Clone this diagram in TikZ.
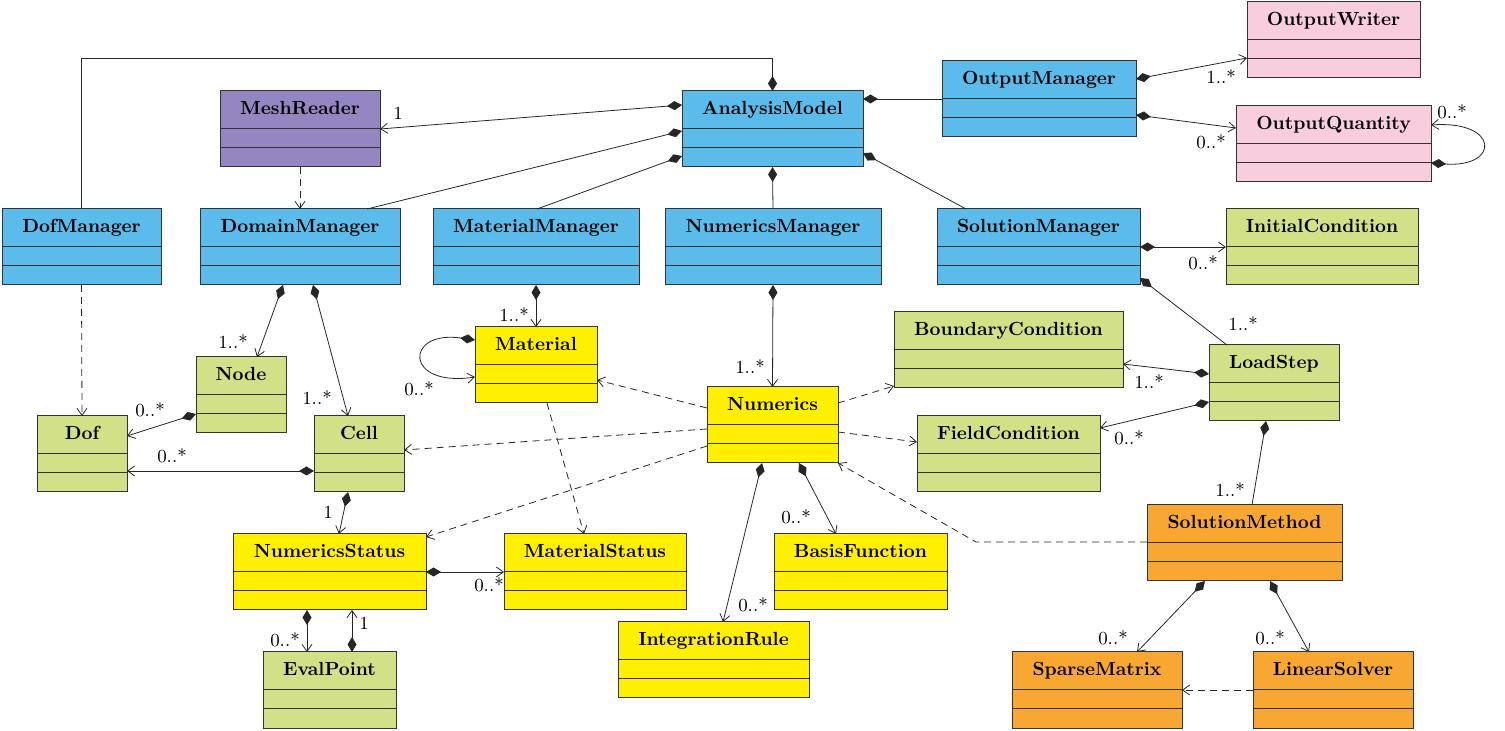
\documentclass[tikz,border=0pt]{standalone}
\usetikzlibrary{arrows.meta,fit,calc}
\definecolor{cblue}{RGB}{91,187,234}
\definecolor{cpurple}{RGB}{148,134,192}
\definecolor{cpink}{RGB}{248,205,222}
\definecolor{cgreen}{RGB}{210,225,136}
\definecolor{cyellow}{RGB}{255,240,0}
\definecolor{corange}{RGB}{248,168,50}
\tikzset{
  umlbox/.style={draw=black!80, line width=0.5pt, inner sep=0pt, outer sep=0pt, rectangle},
  ttl/.style={font=\fontsize{9.5}{11}\selectfont\bfseries, inner sep=0pt, anchor=base},
  mult/.style={font=\fontsize{9.2}{11}\selectfont, inner sep=0pt},
  conn/.style={draw=black!85, line width=0.4pt},
  comp/.style={conn, {Diamond[length=7.5pt,width=4.5pt]}-{Straight Barb[length=3.5pt,width=5pt]}},
  compl/.style={conn, {Diamond[length=7.5pt,width=4.5pt]}-},
  dep/.style={conn, dash pattern=on 3.5pt off 2.5pt, -{Straight Barb[length=3.5pt,width=5pt]}},
}
\newcommand\umlcls[6]{%
  \node[umlbox, fill=#5, fit={(#2,#4) ({#3},{#4+76})}] (#1) {};
  \draw[draw=black!80, line width=0.5pt]
     ([yshift=-18.75pt]#1.north west) -- ([yshift=-18.75pt]#1.north east)
     ([yshift=-28.5pt]#1.north west) -- ([yshift=-28.5pt]#1.north east);
  \node[ttl] (#1-t) at ([yshift=-11.8pt]#1.north) {#6};
}
\begin{document}
\begin{tikzpicture}[x=0.5pt,y=-0.5pt]
\useasboundingbox (0,0) rectangle (1505,731);
\umlcls{ow}{1247}{1420}{2}{cpink}{OutputWriter}
\umlcls{om}{942}{1136}{61}{cblue}{OutputManager}
\umlcls{am}{682}{863}{91}{cblue}{AnalysisModel}
\umlcls{mr}{220}{380}{91}{cpurple}{MeshReader}
\umlcls{oq}{1236}{1431}{106}{cpink}{OutputQuantity}
\umlcls{dofm}{2}{161}{209}{cblue}{DofManager}
\umlcls{dm}{200}{400}{209}{cblue}{DomainManager}
\umlcls{mm}{433}{639}{209}{cblue}{MaterialManager}
\umlcls{nm}{665}{881}{209}{cblue}{NumericsManager}
\umlcls{solm}{937}{1140}{209}{cblue}{SolutionManager}
\umlcls{ic}{1226}{1418}{209}{cgreen}{InitialCondition}
\umlcls{bc}{894}{1123}{312}{cgreen}{BoundaryCondition}
\umlcls{mat}{475}{597}{327}{cyellow}{Material}
\umlcls{ls}{1209}{1339}{345}{cgreen}{LoadStep}
\umlcls{nd}{196}{286}{357}{cgreen}{Node}
\umlcls{num}{707}{838}{387}{cyellow}{Numerics}
\umlcls{dof}{37}{127}{416}{cgreen}{Dof}
\umlcls{cell}{314}{404}{416}{cgreen}{Cell}
\umlcls{fc}{917}{1100}{416}{cgreen}{FieldCondition}
\umlcls{smeth}{1147}{1342}{505}{corange}{SolutionMethod}
\umlcls{ns}{233}{426}{534}{cyellow}{NumericsStatus}
\umlcls{ms}{504}{686}{534}{cyellow}{MaterialStatus}
\umlcls{bf}{774}{947}{534}{cyellow}{BasisFunction}
\umlcls{ir}{618}{809}{622}{cyellow}{IntegrationRule}
\umlcls{ep}{263}{396}{652}{cgreen}{EvalPoint}
\umlcls{spm}{1012}{1182}{652}{corange}{SparseMatrix}
\umlcls{lsol}{1253}{1413}{652}{corange}{LinearSolver}

% AnalysisModel connections
\draw[compl] (am.north) -- (am.north |- 0,58) -| (dofm.north);
\draw[comp] (am.west |- 0,105) -- (mr.east |- 0,129);
\draw[compl] (am.west |- 0,131) -- (dm.north -| 367,0);
\draw[compl] (am.west |- 0,156) -- (mm.north -| 537,0);
\draw[compl] (am.east |- 0,99) -- (om.west |- 0,99);
\draw[compl] (am.south) -- (nm.north);
\draw[compl] (am.east |- 0,153) -- (solm.north -| 966,0);
\draw[dep] (mr.south) -- (dm.north);
\draw[dep] (dofm.south) -- (dof.north);

% Domain
\draw[comp] (dm.south -| 283,0) -- (nd.north -| 257,0);
\draw[comp] (dm.south -| 313,0) -- (cell.north -| 348,0);
\draw[comp] (nd.west |- 0,414) -- (dof.east |- 0,436);
\draw[comp] (cell.west |- 0,471) -- (dof.east |- 0,471);
\draw[comp] (cell.south -| 348,0) -- (ns.north -| 339,0);
\draw[comp] (mm.south) -- (mat.north);
\draw[comp] (mat.west |- 0,340) .. controls (404,330) and (404,388) .. (mat.west |- 0,377);
\draw[comp] (nm.south) -- (num.north);
\draw[dep] (num.west |- 0,408) -- (mat.east |- 0,380);
\draw[dep] (num.west |- 0,429) -- (cell.east |- 0,450);
\draw[dep] (num.west |- 0,446) -- (ns.east |- 0,537);
\draw[dep] (mat.south -| 547,0) -- (ms.north -| 584,0);
\draw[comp] (ns.east |- 0,572) -- (ms.west |- 0,572);
\draw[comp] (ns.south -| 307,0) -- (ep.north -| 307,0);
\draw[comp] (ep.north -| 352,0) -- (ns.south -| 352,0);
\draw[dep] (num.east |- 0,403) -- (bc.west |- 0,386);
\draw[dep] (num.east |- 0,432) -- (fc.west |- 0,442);
\draw[comp] (num.south -| 762,0) -- (ir.north -| 723,0);
\draw[comp] (num.south -| 799,0) -- (bf.north -| 836,0);
\draw[dep] (smeth.west |- 0,542) -- (976,542) -- (num.south east);

% Output
\draw[comp] (om.east |- 0,79) -- (ow.west |- 0,58);
\draw[comp] (om.east |- 0,115) -- (oq.west |- 0,128);
\draw[comp] (oq.east |- 0,163) .. controls (1500,168) and (1500,120) .. (oq.east |- 0,125);

% Solution
\draw[comp] (solm.east |- 0,247) -- (ic.west |- 0,247);
\draw[compl] (solm.east |- 0,278) -- (ls.north -| 1227,0);
\draw[comp] (ls.west |- 0,374) -- (bc.east |- 0,364);
\draw[comp] (ls.west |- 0,402) -- (fc.east |- 0,428);
\draw[compl] (ls.south -| 1266,0) -- (smeth.north -| 1252,0);
\draw[comp] (smeth.south -| 1205,0) -- (spm.north -| 1137,0);
\draw[comp] (smeth.south -| 1270,0) -- (lsol.north -| 1309,0);
\draw[dep] (lsol.west |- 0,690) -- (spm.east |- 0,690);

% multiplicities
\node[mult] (m1) at (398,113) {1};
\node[mult] (m2) at (233,342) {1..*};
\node[mult] (m3) at (317,398) {1..*};
\node[mult] (m4) at (150,410) {0..*};
\node[mult] (m5) at (172,456) {0..*};
\node[mult] (m6) at (328,512) {1};
\node[mult] (m7) at (514,315) {1..*};
\node[mult] (m8) at (419,389) {0..*};
\node[mult] (m9) at (750,367) {1..*};
\node[mult] (m10) at (489,585) {0..*};
\node[mult] (m11) at (285,640) {0..*};
\node[mult] (m12) at (364,623) {1};
\node[mult] (m13) at (753,605) {0..*};
\node[mult] (m14) at (796,517) {0..*};
\node[mult] (m15) at (1221,77) {1..*};
\node[mult] (m16) at (1211,142) {0..*};
\node[mult] (m17) at (1452,112) {0..*};
\node[mult] (m18) at (1203,263) {0..*};
\node[mult] (m19) at (1243,324) {1..*};
\node[mult] (m20) at (1149,382) {1..*};
\node[mult] (m21) at (1129,438) {0..*};
\node[mult] (m22) at (1230,490) {1..*};
\node[mult] (m23) at (1113,638) {0..*};
\node[mult] (m24) at (1270,638) {0..*};
\end{tikzpicture}
\end{document}
